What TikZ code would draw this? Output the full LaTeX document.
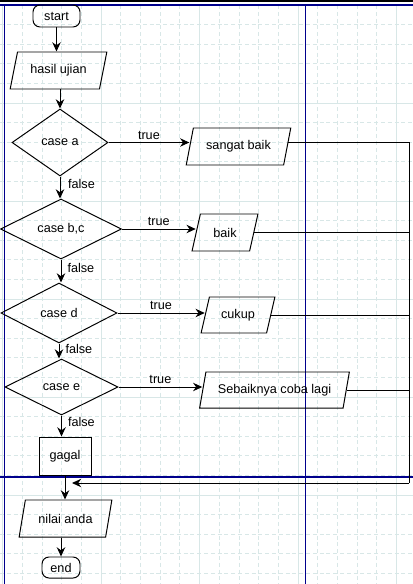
\documentclass[tikz,border=0pt]{standalone}
\usepackage{fontspec}
\setmainfont{Liberation Sans}
\usetikzlibrary{arrows.meta, shapes.geometric}

\definecolor{gridcol}{RGB}{216,231,231}
\definecolor{guide}{RGB}{0,0,140}

\begin{document}
\begin{tikzpicture}[
        x=0.025cm, y=-0.025cm,
        every node/.style={draw, line width=0.7pt, inner sep=1pt, font=\fontsize{9}{11}\selectfont, text centered},
        terminal/.style={rectangle, rounded corners=5pt},
        io/.style={trapezium, trapezium left angle=70, trapezium right angle=110, trapezium stretches=true},
        decision/.style={diamond, inner sep=0pt},
        process/.style={rectangle},
        lbl/.style={draw=none, inner sep=2pt},
        arrow/.style={-{Stealth[length=2.3mm, width=2.1mm]}, line width=0.7pt},
        line/.style={line width=0.7pt},
        minor/.style={gridcol, line width=0.5pt, dash pattern=on 1mm off 0.7mm},
        major/.style={gridcol, line width=0.7pt}
    ]
    \useasboundingbox (0,0) rectangle (413,584);

    % Editor grid and guides
    \foreach \k in {0,...,20} \draw[minor] ({2.5+19.7*\k},5) -- ({2.5+19.7*\k},584);
    \foreach \k in {0,...,29} \draw[minor] (0,{5+19.6*\k}) -- (413,{5+19.6*\k});
    \foreach \k in {0,5,...,20} \draw[major] ({2.5+19.7*\k},5) -- ({2.5+19.7*\k},584);
    \foreach \k in {0,5,...,25} \draw[major] (0,{5+19.6*\k}) -- (413,{5+19.6*\k});
    \fill[black] (0,0) rectangle (413,2.5);
    \draw[guide, line width=1pt] (0,5) -- (413,5);
    \draw[guide, line width=1pt] (0,477) -- (413,477);
    \draw[guide, line width=1pt] (4.3,5) -- (4.3,584);
    \draw[guide, line width=1pt] (305.5,5) -- (305.5,584);

    % Nodes
    \node [terminal, minimum width=1.175cm, minimum height=0.55cm] (start) at (56.5,16) {start};
    \node [io, minimum width=2.425cm, minimum height=0.925cm] (hasil) at (58.5,70.5) {hasil ujian};
    \node [decision, minimum width=2.4cm, minimum height=1.675cm] (casea) at (60,142.5) {case a};
    \node [io, minimum width=2.625cm, minimum height=0.925cm] (sangat) at (238.5,146.5) {sangat baik};
    \node [decision, minimum width=3.025cm, minimum height=1.5cm] (casebc) at (61,229) {case b,c};
    \node [io, minimum width=1.65cm, minimum height=0.925cm] (baik) at (225,232.5) {baik};
    \node [decision, minimum width=2.9cm, minimum height=1.5cm] (cased) at (59,313) {case d};
    \node [io, minimum width=1.85cm, minimum height=0.9cm] (cukup) at (238,315) {cukup};
    \node [decision, minimum width=2.825cm, minimum height=1.4cm] (casee) at (61.5,387) {case e};
    \node [io, minimum width=3.775cm, minimum height=0.9cm] (saran) at (274.5,390) {Sebaiknya coba lagi};
    \node [process, minimum width=1.3cm, minimum height=0.95cm] (gagal) at (65,456) {gagal};
    \node [io, minimum width=2.325cm, minimum height=0.925cm] (nilai) at (65.5,518.5) {nilai anda};
    \node [terminal, minimum width=0.95cm, minimum height=0.525cm] (end) at (61,567.5) {end};
    \coordinate (join) at (409,483);
    \coordinate (mergeend) at (72,483);

    % Main flow
    \draw[arrow] (start.south) -- (start.south |- hasil.north);
    \draw[arrow] (casea.north |- hasil.south) -- (casea.north);
    \draw[arrow] (casea.south) -- node[lbl, right, pos=0.35, xshift=1.2mm] {false} (casea.south |- casebc.north);
    \draw[arrow] (casebc.south) -- node[lbl, right, pos=0.35, xshift=0.8mm] {false} (casebc.south |- cased.north);
    \draw[arrow] (cased.south) -- node[lbl, right, pos=0.35, xshift=0.8mm] {false} (cased.south |- casee.north);
    \draw[arrow] (casee.south) -- node[lbl, right, pos=0.3, xshift=0.8mm] {false} (casee.south |- gagal.north);
    \draw[arrow] (gagal.south) -- (gagal.south |- nilai.north);
    \draw[arrow] (nilai.south -| end.north) -- (end.north);

    % True branches
    \draw[arrow] (casea.east) -- node[lbl, above] {true} (casea.east -| sangat.west);
    \draw[arrow] (casebc.east) -- node[lbl, above] {true} (casebc.east -| baik.west);
    \draw[arrow] (cased.east) -- node[lbl, above] {true} (cased.east -| cukup.west);
    \draw[arrow] (casee.east) -- node[lbl, above] {true} (casee.east -| saran.west);

    % Back to the output
    \draw[line] (casea.east -| sangat.east) -| (join);
    \draw[line] (baik.east) -- (baik.east -| join);
    \draw[line] (cukup.east) -- (cukup.east -| join);
    \draw[line] (saran.east) -- (saran.east -| join);
    \draw[arrow] (join) -- (mergeend);

\end{tikzpicture}
\end{document}
